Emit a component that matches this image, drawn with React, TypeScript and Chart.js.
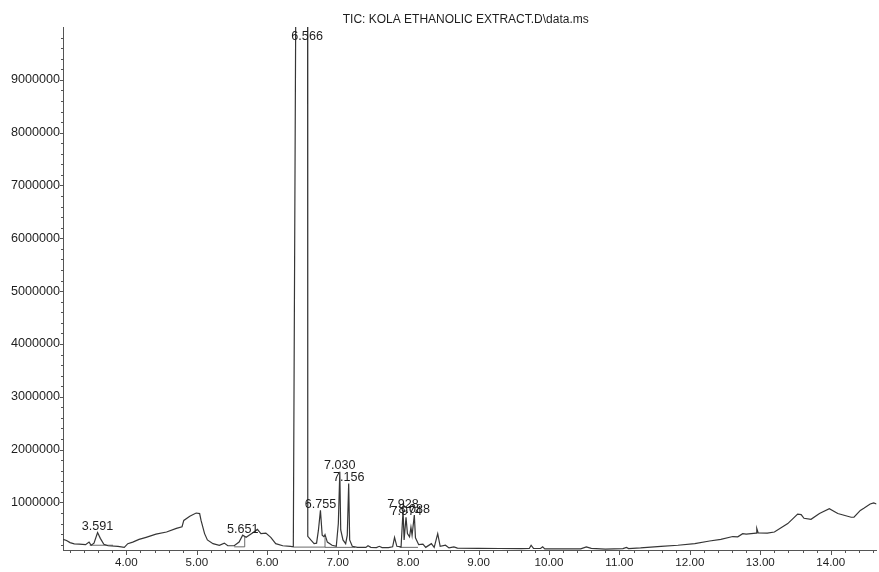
import React, { useEffect, useRef } from "react";
import { Chart, registerables } from "chart.js";

Chart.register(...registerables);

const TITLE = "TIC: KOLA ETHANOLIC EXTRACT.D\\data.ms";

// Retention time (min) of the trace
const retentionTime = [
  3.10, 3.15, 3.20, 3.26, 3.33, 3.42, 3.47, 3.50, 3.54, 3.591, 3.63, 3.68, 3.74, 3.88, 3.97,
  4.02, 4.09, 4.18, 4.28, 4.42, 4.57, 4.71, 4.79, 4.815, 4.90, 4.99, 5.04, 5.06, 5.11, 5.15,
  5.23, 5.32, 5.39, 5.44, 5.53, 5.60, 5.651, 5.70, 5.79, 5.86, 5.91, 5.98, 6.05, 6.12, 6.22,
  6.33, 6.37, 6.405, 6.566, 6.572, 6.578, 6.618, 6.665, 6.70, 6.726, 6.755, 6.78, 6.806, 6.82, 6.853,
  6.92, 6.98, 7.009, 7.030, 7.043, 7.075, 7.113, 7.136, 7.156, 7.17, 7.207, 7.28, 7.40, 7.43, 7.47,
  7.55, 7.59, 7.63, 7.72, 7.78, 7.807, 7.84, 7.90, 7.928, 7.943, 7.97, 7.99, 8.02, 8.04, 8.056,
  8.088, 8.104, 8.15, 8.21, 8.25, 8.33, 8.37, 8.42, 8.455, 8.53, 8.58, 8.65, 8.70, 9.00, 9.30,
  9.60, 9.72, 9.746, 9.78, 9.88, 9.91, 9.94, 10.20, 10.45, 10.53, 10.60, 10.80, 11.05, 11.10, 11.13,
  11.30, 11.59, 11.83, 12.07, 12.28, 12.44, 12.61, 12.68, 12.75, 12.80, 12.94, 12.95, 12.97, 13.10, 13.20,
  13.39, 13.53, 13.58, 13.62, 13.72, 13.84, 13.98, 14.10, 14.29, 14.33, 14.42, 14.47, 14.56, 14.61, 14.65,
];

// Abundance (counts) of the trace
const abundance = [
  300000, 280000, 240000, 215000, 210000, 200000, 250000, 190000, 230000, 430000, 320000, 210000, 180000, 170000, 150000,
  220000, 250000, 300000, 340000, 400000, 440000, 510000, 540000, 660000, 740000, 800000, 790000, 660000, 410000, 290000,
  220000, 190000, 230000, 180000, 180000, 250000, 380000, 340000, 420000, 490000, 410000, 420000, 340000, 220000, 180000,
  170000, 160000, 10500000, 40000000, 10500000, 360000, 290000, 220000, 230000, 470000, 850000, 380000, 350000, 390000, 250000,
  190000, 170000, 600000, 1580000, 480000, 290000, 220000, 380000, 1360000, 290000, 170000, 150000, 150000, 180000, 150000,
  145000, 170000, 145000, 145000, 160000, 340000, 170000, 160000, 850000, 290000, 720000, 410000, 350000, 530000, 380000,
  760000, 330000, 200000, 210000, 150000, 220000, 150000, 410000, 170000, 190000, 140000, 160000, 135000, 130000, 128000,
  125000, 128000, 190000, 130000, 128000, 160000, 122000, 120000, 122000, 160000, 130000, 118000, 125000, 150000, 128000,
  140000, 170000, 190000, 220000, 270000, 300000, 355000, 350000, 410000, 400000, 420000, 510000, 425000, 420000, 440000,
  600000, 780000, 770000, 700000, 680000, 790000, 880000, 790000, 720000, 720000, 850000, 890000, 970000, 990000, 970000,
];

// Integration baselines (null = break)
const integrationRt = [3.48, 3.81, null, 5.53, 5.68, 5.68, null, 6.38, 6.82, 6.82, null, 6.82, 7.25, null, 7.88, 8.14];
const integrationAbund = [190000, 190000, null, 160000, 160000, 360000, null, 155000, 155000, 330000, null, 150000, 150000, null, 150000, 150000];

// Peak labels
const peakRt = [3.591, 5.651, 6.566, 6.755, 7.030, 7.156, 7.928, 7.974, 8.088];
const peakLabels = ["3.591", "5.651", "6.566", "6.755", "7.030", "7.156", "7.928", "7.974", "8.088"];
const peakApex = [430000, 380000, 40000000, 850000, 1580000, 1360000, 850000, 720000, 760000];

// Axes
const X_MIN = 3.1;
const X_MAX = 14.65;
const X_MINOR = 0.2;
const Y_MIN = 100000;
const Y_MAX = 10000000;
const Y_MINOR = 200000;
const Y_MAJOR = 1000000;

const FONT = "'Liberation Sans', Arial, sans-serif";
const TEXT_COLOR = "#1e1e1e";
const AXIS_COLOR = "#555555";
const TRACE_COLOR = "#363636";

function isMajorX(v: number) {
  return Math.abs(v - Math.round(v)) < 1e-6;
}
function isMajorY(v: number) {
  return Math.abs(v / Y_MAJOR - Math.round(v / Y_MAJOR)) < 1e-6;
}

const overlayPlugin = {
  id: "overlay",
  afterDraw(chart: any) {
    const { ctx, chartArea, scales } = chart;
    const xs = scales.x;
    const ys = scales.y;
    ctx.save();
    ctx.strokeStyle = AXIS_COLOR;
    ctx.lineWidth = 1;
    ctx.beginPath();
    xs.ticks.forEach((t: any) => {
      const px = Math.round(xs.getPixelForValue(t.value)) + 0.5;
      const len = isMajorX(t.value) ? 5 : 3;
      ctx.moveTo(px, chartArea.bottom);
      ctx.lineTo(px, chartArea.bottom + len);
    });
    ys.ticks.forEach((t: any) => {
      const py = Math.round(ys.getPixelForValue(t.value)) + 0.5;
      const len = isMajorY(t.value) ? 3 : 2;
      ctx.moveTo(chartArea.left, py);
      ctx.lineTo(chartArea.left - len, py);
    });
    ctx.stroke();

    ctx.fillStyle = TEXT_COLOR;
    ctx.textAlign = "center";
    ctx.textBaseline = "alphabetic";
    ctx.font = `12.6px ${FONT}`;
    peakRt.forEach((rt, i) => {
      const px = xs.getPixelForValue(rt);
      const py = Math.max(ys.getPixelForValue(peakApex[i]) - 2.5, chartArea.top + 12.5);
      ctx.fillText(peakLabels[i], px, py);
    });

    ctx.font = `12px ${FONT}`;
    ctx.fillText(TITLE, (chartArea.left + chartArea.right) / 2 - 4, 22.5);
    ctx.restore();
  },
};

export default function App() {
  const canvasRef = useRef<HTMLCanvasElement | null>(null);

  useEffect(() => {
    const canvas = canvasRef.current;
    if (!canvas) return;

    const traceData = retentionTime.map((x, i) => ({ x, y: abundance[i] }));
    const baseData = integrationRt.map((x, i) =>
      x === null
        ? { x: (integrationRt[i - 1] as number) ?? X_MIN, y: null }
        : { x, y: integrationAbund[i] }
    );

    const chart = new Chart(canvas, {
      type: "line",
      data: {
        datasets: [
          {
            data: traceData as any,
            borderColor: TRACE_COLOR,
            borderWidth: 1.2,
            pointRadius: 0,
            tension: 0,
            fill: false,
          },
          {
            data: baseData as any,
            borderColor: "#444444",
            borderWidth: 0.8,
            pointRadius: 0,
            tension: 0,
            spanGaps: false,
            fill: false,
          },
        ],
      },
      options: {
        responsive: false,
        animation: false,
        devicePixelRatio: 1,
        parsing: false as any,
        layout: { padding: { top: 27, right: 0, left: 0, bottom: 0 } },
        plugins: {
          legend: { display: false },
          title: { display: false },
          tooltip: { enabled: false },
        },
        scales: {
          x: {
            type: "linear",
            min: X_MIN,
            max: X_MAX,
            grid: { display: false, drawTicks: false },
            border: { display: true, color: AXIS_COLOR, width: 1 },
            afterBuildTicks: (scale: any) => {
              const ticks: any[] = [];
              const start = Math.ceil(X_MIN / X_MINOR - 1e-9);
              const end = Math.floor(X_MAX / X_MINOR + 1e-9);
              for (let i = start; i <= end; i++) ticks.push({ value: Math.round(i * X_MINOR * 10) / 10 });
              scale.ticks = ticks;
            },
            afterFit: (scale: any) => {
              scale.height = 22;
            },
            ticks: {
              autoSkip: false,
              maxRotation: 0,
              padding: 6,
              color: TEXT_COLOR,
              font: { family: FONT, size: 11.6 },
              callback: (v: any) => (isMajorX(Number(v)) ? Number(v).toFixed(2) : ""),
            },
          },
          y: {
            type: "linear",
            min: Y_MIN,
            max: Y_MAX,
            grid: { display: false, drawTicks: false },
            border: { display: true, color: AXIS_COLOR, width: 1 },
            afterBuildTicks: (scale: any) => {
              const ticks: any[] = [];
              for (let v = Y_MINOR; v < Y_MAX; v += Y_MINOR) ticks.push({ value: v });
              scale.ticks = ticks;
            },
            afterFit: (scale: any) => {
              scale.width = 63;
            },
            ticks: {
              autoSkip: false,
              padding: 3,
              color: TEXT_COLOR,
              font: { family: FONT, size: 12.6 },
              callback: (v: any) => (isMajorY(Number(v)) && Number(v) >= Y_MAJOR ? String(Math.round(Number(v))) : ""),
            },
          },
        },
      },
      plugins: [overlayPlugin],
    });

    return () => chart.destroy();
  }, []);

  return (
    <div style={{ position: "absolute", left: 0, top: 0, width: 879, height: 572, background: "#fff" }}>
      <canvas ref={canvasRef} width={879} height={572} style={{ display: "block" }} />
    </div>
  );
}
